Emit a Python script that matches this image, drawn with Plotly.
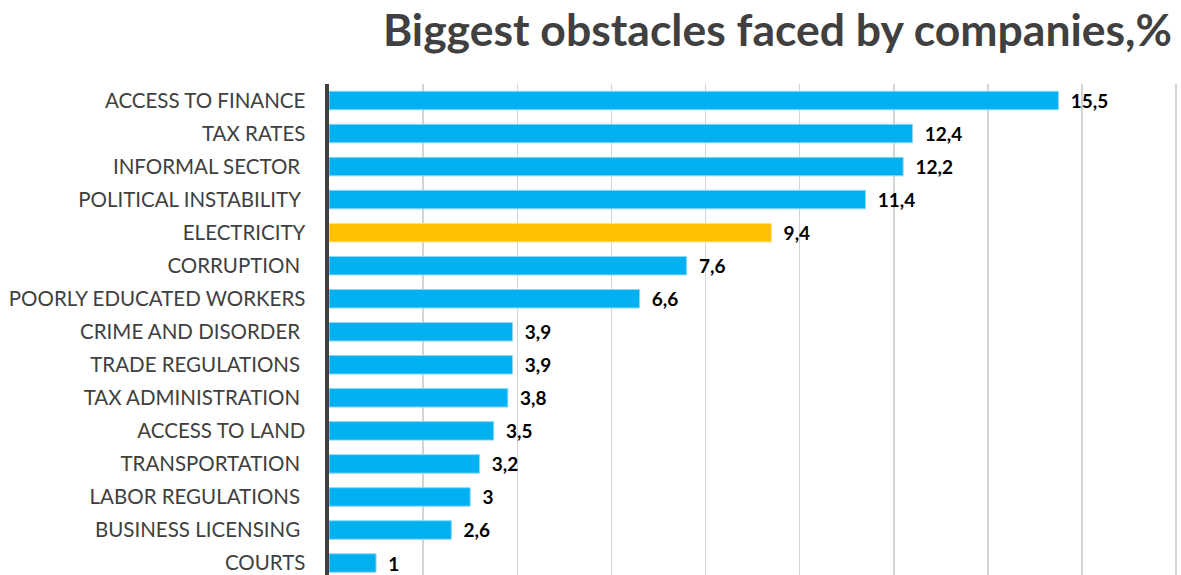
import plotly.graph_objects as go

categories = [
    "ACCESS TO FINANCE",
    "TAX RATES",
    "INFORMAL SECTOR\u00a0",
    "POLITICAL INSTABILITY\u00a0",
    "ELECTRICITY",
    "CORRUPTION\u00a0",
    "POORLY EDUCATED WORKERS",
    "CRIME AND DISORDER\u00a0",
    "TRADE REGULATIONS\u00a0",
    "TAX ADMINISTRATION\u00a0",
    "ACCESS TO LAND",
    "TRANSPORTATION\u00a0",
    "LABOR REGULATIONS\u00a0",
    "BUSINESS LICENSING\u00a0",
    "COURTS",
]
values = [15.5, 12.4, 12.2, 11.4, 9.4, 7.6, 6.6, 3.9, 3.9, 3.8, 3.5, 3.2, 3.0, 2.6, 1.0]
highlight = "ELECTRICITY"

BLUE = "#00B0F0"
BLUE_EDGE = "#8fd8f5"
GOLD = "#FFC000"
GOLD_EDGE = "#ffe08a"

colors = [GOLD if c == highlight else BLUE for c in categories]
edges = [GOLD_EDGE if c == highlight else BLUE_EDGE for c in categories]
labels = [("%g" % v).replace(".", ",") for v in values]

W, H = 1181, 575
fig = go.Figure(
    go.Bar(
        x=values,
        y=categories,
        orientation="h",
        marker=dict(color=colors, line=dict(color=edges, width=1)),
        width=0.56,
        text=["\u00a0\u00a0" + t for t in labels],
        textposition="outside",
        constraintext="none",
        cliponaxis=False,
        textfont=dict(family="Lato", size=19, color="#000000", weight="bold"),
        hoverinfo="skip",
    )
)

fig.update_layout(
    template="none",
    width=W,
    height=H,
    autosize=False,
    plot_bgcolor="white",
    paper_bgcolor="white",
    showlegend=False,
    margin=dict(l=329, r=3, t=83.5, b=0, pad=0, autoexpand=False),
    title=dict(
        text="<b>Biggest obstacles faced by companies,%</b>",
        font=dict(family="Lato", size=44.5, color="#404040"),
        xref="container",
        yref="container",
        x=1172 / W,
        xanchor="right",
        y=1 - 30 / H,
        yanchor="middle",
    ),
    xaxis=dict(
        automargin=False,
        range=[0, 18.04],
        dtick=2,
        showgrid=True,
        gridcolor="#d4d4d4",
        gridwidth=1.5,
        showticklabels=False,
        zeroline=False,
        showline=False,
        ticks="",
    ),
    yaxis=dict(
        automargin=False,
        type="category",
        categoryorder="array",
        categoryarray=categories,
        range=[14 + 12 / 33.07, -0.5],
        showline=True,
        linecolor="#404040",
        linewidth=4.5,
        ticks="",
        ticklabelstandoff=15,
        tickfont=dict(family="Lato", size=20.5, color="#404040"),
        showgrid=False,
        zeroline=False,
    ),
)

fig.write_html(
    "out.html",
    config={"displayModeBar": False, "staticPlot": True},
    post_script="document.body.style.margin='0';document.body.style.overflow='hidden';",
)
